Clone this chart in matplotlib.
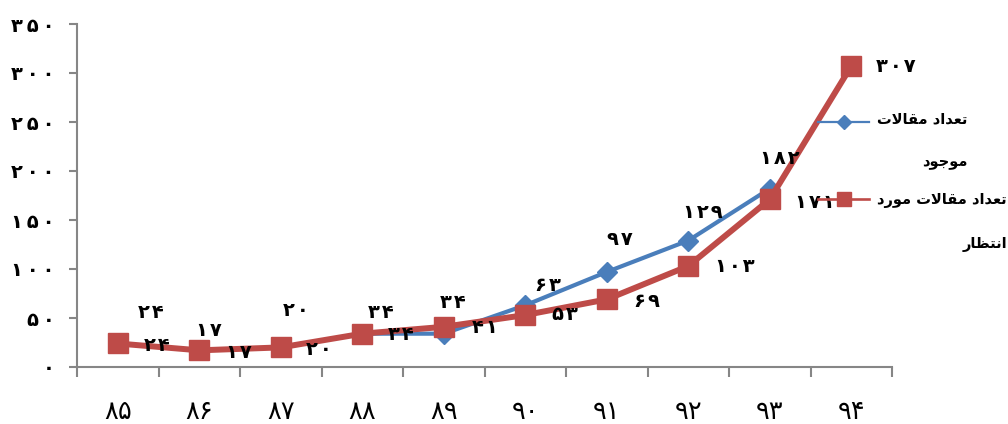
import matplotlib
matplotlib.use("Agg")
import matplotlib.pyplot as plt
from matplotlib.lines import Line2D

plt.rcParams['font.family'] = ['DejaVu Sans']

# ---------------- data ----------------
years = ['۸۵', '۸۶', '۸۷', '۸۸', '۸۹', '۹۰', '۹۱', '۹۲', '۹۳', '۹۴']
existing = [24, 17, 20, 34, 34, 63, 97, 129, 182]
expected = [24, 17, 20, 34, 41, 53, 69, 103, 171, 307]
y_ticks = [0, 50, 100, 150, 200, 250, 300, 350]
label_existing = 'تعداد مقالات\nموجود'
label_expected = 'تعداد مقالات مورد\nانتظار'

PERSIAN = str.maketrans('0123456789', '۰۱۲۳۴۵۶۷۸۹')


def fa_num(v, sep=''):
    return sep.join(str(v).translate(PERSIAN))


# ------------- minimal Arabic shaper (matplotlib has no RTL shaping) -------------
FORMS = {  # isolated, final, initial, medial
    'ا': ('\uFE8D', '\uFE8E', None, None),
    'ت': ('\uFE95', '\uFE96', '\uFE97', '\uFE98'),
    'ع': ('\uFEC9', '\uFECA', '\uFECB', '\uFECC'),
    'د': ('\uFEA9', '\uFEAA', None, None),
    'م': ('\uFEE1', '\uFEE2', '\uFEE3', '\uFEE4'),
    'ق': ('\uFED5', '\uFED6', '\uFED7', '\uFED8'),
    'ل': ('\uFEDD', '\uFEDE', '\uFEDF', '\uFEE0'),
    'و': ('\uFEED', '\uFEEE', None, None),
    'ج': ('\uFE9D', '\uFE9E', '\uFE9F', '\uFEA0'),
    'ر': ('\uFEAD', '\uFEAE', None, None),
    'ن': ('\uFEE5', '\uFEE6', '\uFEE7', '\uFEE8'),
    'ظ': ('\uFEC5', '\uFEC6', '\uFEC7', '\uFEC8'),
}


def dual(c):
    return c in FORMS and FORMS[c][2] is not None


def shape_line(s):
    out = []
    i = 0
    n = len(s)
    while i < n:
        c = s[i]
        if c not in FORMS:
            out.append(c)
            i += 1
            continue
        prev = s[i - 1] if i > 0 else ''
        jp = dual(prev)
        if c == 'ل' and i + 1 < n and s[i + 1] == 'ا':
            out.append('\uFEFC' if jp else '\uFEFB')
            i += 2
            continue
        nxt = s[i + 1] if i + 1 < n else ''
        jn = dual(c) and nxt in FORMS
        iso, fin, ini, med = FORMS[c]
        if jp and jn:
            g = med
        elif jp:
            g = fin
        elif jn:
            g = ini
        else:
            g = iso
        out.append(g)
        i += 1
    return ''.join(reversed(out))


def shape(text):
    return '\n'.join(shape_line(t) for t in text.split('\n'))


# ---------------- figure ----------------
W, H = 1008, 424
fig = plt.figure(figsize=(W / 100, H / 100), dpi=100)
ax = fig.add_axes([77 / W, 1 - 367 / H, (892 - 77) / W, (367 - 24) / H])

blue = '#4A7EBB'
red = '#BE4B48'
axis_col = '#868686'

x_ex = list(range(len(existing)))
x_exp = list(range(len(expected)))

ax.plot(x_ex, existing, color=blue, lw=3.0, marker='D', ms=10,
        markerfacecolor=blue, markeredgecolor=blue, zorder=3)
ax.plot(x_exp, expected, color=red, lw=4.3, marker='s', ms=14,
        markerfacecolor=red, markeredgecolor=red, zorder=4)

ax.set_xlim(-0.5, len(years) - 0.5)
ax.set_ylim(0, 350)

# data labels
blue_off = [(33, 31), (10, 20), (15, 37), (19, 21), (9, 31), (23, 20), (13, 32), (15, 28), (10, 30)]
red_off = [(39, -2), (40, -2), (38, -2), (39, -1), (41, -1), (40, 1), (40, -2), (47, 0), (45, -3), (45, 0)]
lab_kw = dict(textcoords='offset pixels', ha='center', va='center',
              fontsize=14, fontweight='bold', color='black', zorder=6)
for xi, v, (dx, dy) in zip(x_ex, existing, blue_off):
    ax.annotate(fa_num(v, '\u200a'), (xi, v), xytext=(dx, dy), **lab_kw)
for xi, v, (dx, dy) in zip(x_exp, expected, red_off):
    ax.annotate(fa_num(v, '\u200a'), (xi, v), xytext=(dx, dy), **lab_kw)

# axes styling
for side in ('top', 'right'):
    ax.spines[side].set_visible(False)
for side in ('left', 'bottom'):
    ax.spines[side].set_color(axis_col)
    ax.spines[side].set_linewidth(1.5)

ax.set_yticks(y_ticks)
ax.set_yticklabels([fa_num(v, '\u2009') for v in y_ticks], fontsize=14, fontweight='bold')
ax.tick_params(axis='y', direction='out', length=6, width=1.5, color=axis_col, pad=10)

ax.set_xticks([i - 0.5 for i in range(len(years) + 1)])
ax.set_xticklabels([])
ax.set_xticks(range(len(years)), minor=True)
ax.set_xticklabels(years, minor=True, fontsize=18.5)
ax.tick_params(axis='x', which='major', direction='out', length=7, width=1.5, color=axis_col)
ax.tick_params(axis='x', which='minor', length=0, pad=23)


# manual legend (handles aligned with first text line, as in the original)
def fpt(x, y):
    return (x / W, 1 - y / H)


entries = [(label_existing, blue, 'D', 7, 1.6, 122, 121),
           (label_expected, red, 's', 10, 1.9, 199, 203)]
for text, col, mk, ms, lw, yy, ytxt in entries:
    x0, y0 = fpt(818, yy)
    x1, _ = fpt(869, yy)
    fig.add_artist(Line2D([x0, x1], [y0, y0], color=col, lw=lw, transform=fig.transFigure))
    fig.add_artist(Line2D([(x0 + x1) / 2], [y0], color=col, marker=mk, ms=ms,
                          markerfacecolor=col, markeredgecolor=col, transform=fig.transFigure))
    tx, ty = fpt(877, ytxt - 10)
    fig.text(tx, ty, shape(text), ha='left', va='top', multialignment='right',
             fontsize=10.5, fontweight='bold', linespacing=3.3)

fig.savefig('out.png', dpi=100)
